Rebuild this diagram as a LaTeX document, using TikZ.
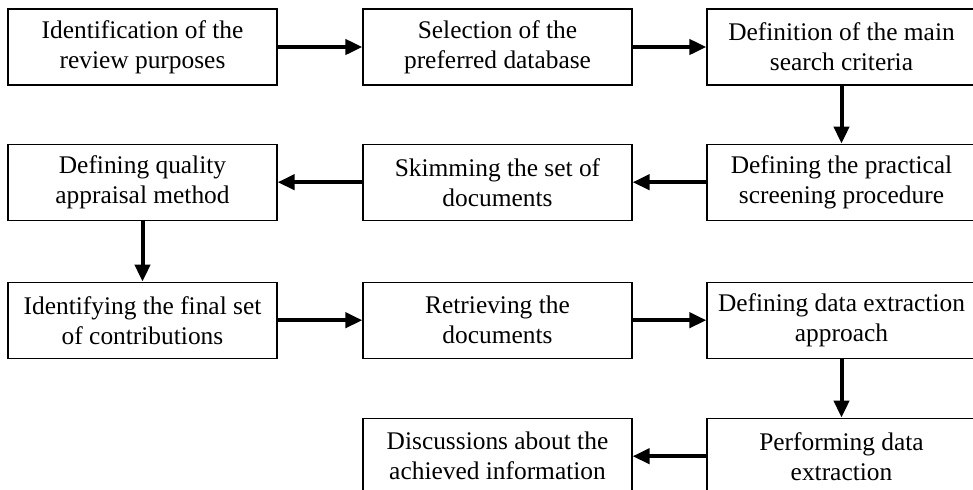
\documentclass[tikz,border=0pt]{standalone}
\usepackage{fontspec}
\setmainfont{Liberation Serif}
\usetikzlibrary{positioning,arrows.meta}

\begin{document}
\begin{tikzpicture}[node distance={29pt and 42.4pt}, line width=0.6pt,
    main/.style = {draw, rectangle, minimum width=134.5pt, minimum height=38pt,
      align=center, inner sep=2pt, font=\fontsize{12.7pt}{15pt}\selectfont},
    flow/.style = {line width=2pt, -{Triangle[length=8.5pt,width=7.5pt]}}]
      \useasboundingbox (0,0) rectangle (486.5pt,-244.5pt);
      \node[main](1) at (71.25pt,-23.5pt){Identification of the\\review purposes};
      \node[main](2)[right=of 1]{Selection of the\\preferred database};
      \node[main](3)[right=36.9pt of 2]{Definition of the main\\search criteria};
      \node[main](4)[below=of 3]{Defining the practical\\screening procedure};
      \node[main](5)[below=of 2]{Skimming the set of\\documents};
      \node[main](6)[below=of 1]{Defining quality\\appraisal method};
      \node[main](7)[below=30.4pt of 6]{Identifying the final set\\of contributions};
      \node[main](8)[right=of 7]{Retrieving the\\documents};
      \node[main](9)[right=36.9pt of 8]{Defining data extraction\\approach};
      \node[main](10)[below=29.4pt of 9]{Performing data\\extraction};
      \node[main](11)[left=36.9pt of 10]{Discussions about the\\achieved information};

      \path[flow]
      (1) edge (2)
      (2) edge (3)
      (3) edge (4)
      (4) edge (5)
      (5) edge (6)
      (6) edge (7)
      (7) edge (8)
      (8) edge (9)
      (9) edge (10)
      (10) edge (11)
      ;
    \end{tikzpicture}
\end{document}
